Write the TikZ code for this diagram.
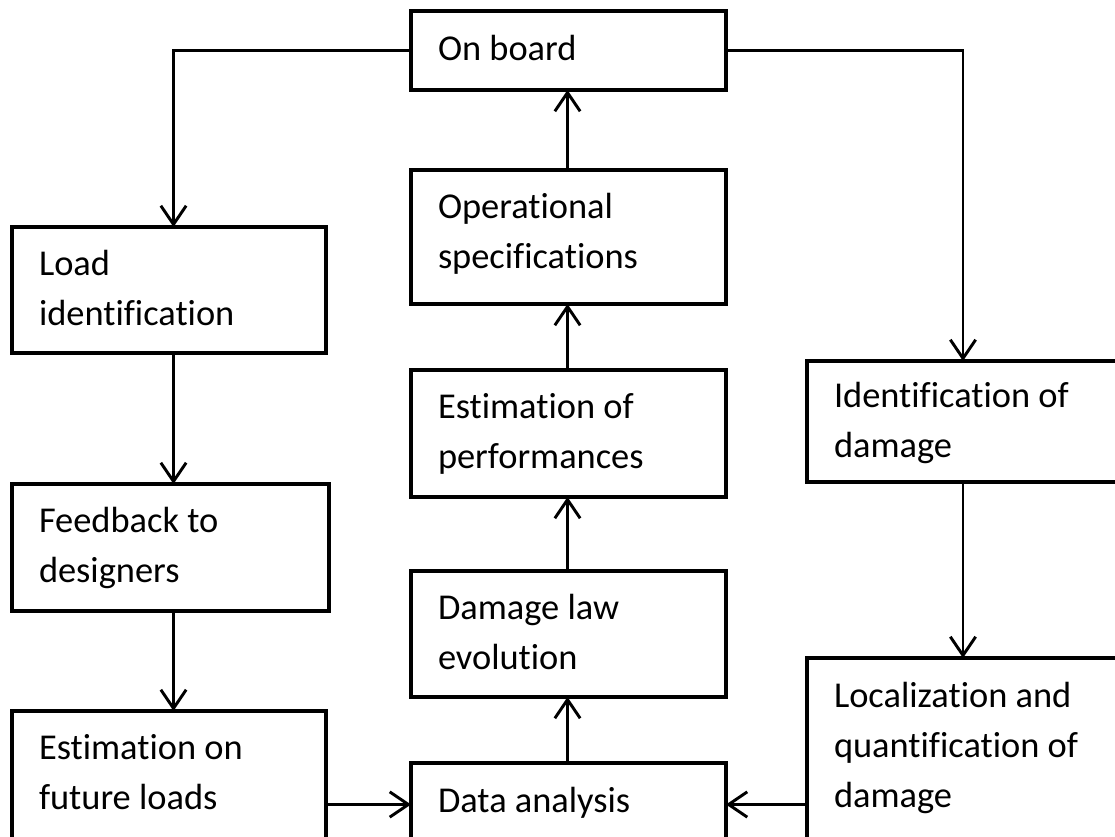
\documentclass[tikz,border=0pt]{standalone}
\usepackage{fontspec}
\setmainfont{Carlito}[Ligatures={NoCommon}]
\usetikzlibrary{arrows.meta}
\begin{document}
\begin{tikzpicture}[x=0.75pt,y=-0.75pt,
  box/.style={draw=black, line width=2.4pt, rectangle, outer sep=0pt, inner sep=0pt, fill=white},
  txt/.style={inner sep=0pt, outer sep=0pt, align=left, font=\fontsize{27.3}{37.5}\selectfont},
  conn/.style={line width=2.2pt, -{Straight Barb[length=14pt,width=19pt,line width=2.2pt]}},
  plain/.style={line width=2.2pt}]
\useasboundingbox (0,0) rectangle (1115,837);
\clip (0,0) rectangle (1115,837);
% boxes
\node[box, minimum width=236.25pt, minimum height=59.25pt] (onb) at (568.5,50.5) {};
\node[box, minimum width=236.25pt, minimum height=100.5pt] (ops) at (568.5,237) {};
\node[box, minimum width=236.25pt, minimum height=95.25pt] (estp) at (568.5,433.5) {};
\node[box, minimum width=236.25pt, minimum height=94.5pt] (dle) at (568.5,634) {};
\node[box, minimum width=236.25pt, minimum height=95.25pt] (da) at (568.5,826.5) {};
\node[box, minimum width=235.5pt, minimum height=94.5pt] (li) at (169,290) {};
\node[box, minimum width=237.75pt, minimum height=95.25pt] (fb) at (170.5,547.5) {};
\node[box, minimum width=235.5pt, minimum height=112.5pt] (efl) at (169,786) {};
\node[box, minimum width=242.25pt, minimum height=90.75pt] (iod) at (968.5,421.5) {};
\node[box, minimum width=242.25pt, minimum height=144pt] (loc) at (968.5,754) {};
% texts (anchor = baseline of last line)
\node[txt, anchor=base west] (t-onb) at ([shift={(27,50)}]onb.north west) {On board};
\node[txt, anchor=base west] (t-ops) at ([shift={(27,99)}]ops.north west) {Operational\\specifications};
\node[txt, anchor=base west] (t-estp) at ([shift={(27,99)}]estp.north west) {Estimation of\\performances};
\node[txt, anchor=base west] (t-dle) at ([shift={(27,99)}]dle.north west) {Damage law\\evolution};
\node[txt, anchor=base west] (t-da) at ([shift={(27,49)}]da.north west) {Data analysis};
\node[txt, anchor=base west] (t-li) at ([shift={(27,99)}]li.north west) {Load\\identification};
\node[txt, anchor=base west] (t-fb) at ([shift={(27,99)}]fb.north west) {Feedback to\\designers};
\node[txt, anchor=base west] (t-efl) at ([shift={(27,99)}]efl.north west) {Estimation on\\future loads};
\node[txt, anchor=base west] (t-iod) at ([shift={(27,97)}]iod.north west) {Identification of\\damage};
\node[txt, anchor=base west] (t-loc) at ([shift={(27,149)}]loc.north west) {Localization and\\quantification of\\damage};
% column / row guides
\coordinate (colL) at (173.5,0);
\coordinate (colC) at (567.5,0);
\coordinate (colR) at (963,0);
\coordinate (rowB) at (0,804.5);
% connectors
\draw[conn] (onb.west) -| (li.north -| colL);
\draw[conn] (onb.east) -| (iod.north -| colR);
\draw[conn] (li.south -| colL) -- (fb.north -| colL);
\draw[conn] (fb.south -| colL) -- (efl.north -| colL);
\draw[conn] (iod.south -| colR) -- (loc.north -| colR);
\draw[conn] (da.north -| colC) -- (dle.south -| colC);
\draw[conn] (dle.north -| colC) -- (estp.south -| colC);
\draw[conn] (estp.north -| colC) -- (ops.south -| colC);
\draw[conn] (ops.north -| colC) -- (onb.south -| colC);
\draw[conn] (efl.east |- rowB) -- (da.west |- rowB);
\draw[conn] (loc.west |- rowB) -- (da.east |- rowB);
\end{tikzpicture}
\end{document}
